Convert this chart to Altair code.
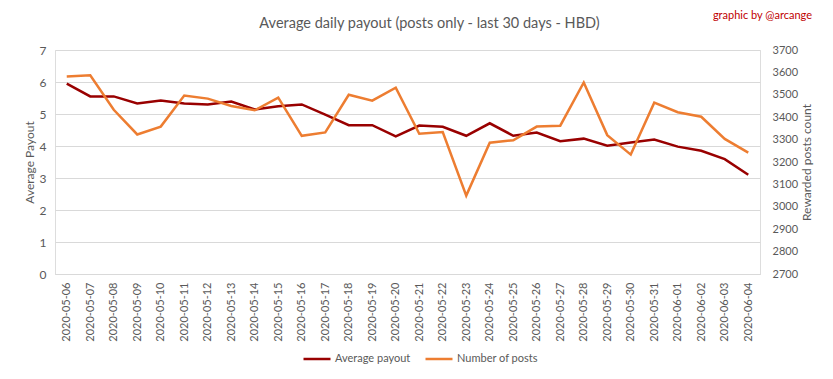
import altair as alt
import pandas as pd

dates = [
    "2020-05-06", "2020-05-07", "2020-05-08", "2020-05-09", "2020-05-10",
    "2020-05-11", "2020-05-12", "2020-05-13", "2020-05-14", "2020-05-15",
    "2020-05-16", "2020-05-17", "2020-05-18", "2020-05-19", "2020-05-20",
    "2020-05-21", "2020-05-22", "2020-05-23", "2020-05-24", "2020-05-25",
    "2020-05-26", "2020-05-27", "2020-05-28", "2020-05-29", "2020-05-30",
    "2020-05-31", "2020-06-01", "2020-06-02", "2020-06-03", "2020-06-04",
]
payout = [5.95, 5.55, 5.55, 5.33, 5.42, 5.33, 5.30, 5.39, 5.14, 5.24,
          5.30, 4.98, 4.65, 4.65, 4.30, 4.64, 4.60, 4.32, 4.71, 4.32,
          4.42, 4.15, 4.23, 4.01, 4.11, 4.20, 3.98, 3.85, 3.59, 3.10]
posts = [3582, 3587, 3433, 3323, 3358, 3497, 3483, 3450, 3431, 3487,
         3317, 3332, 3500, 3474, 3532, 3326, 3334, 3050, 3286, 3297,
         3358, 3362, 3555, 3320, 3233, 3465, 3422, 3402, 3303, 3242]
series_names = ["Average payout", "Number of posts"]
series_colors = ["#990000", "#ED7D31"]
title_text = "Average daily payout (posts only - last 30 days - HBD)"
credit_text = "graphic by @arcange"

df_pay = pd.DataFrame({"date": dates, "value": payout, "series": series_names[0]})
df_posts = pd.DataFrame({"date": dates, "value": posts, "series": series_names[1]})

GREY = "#595959"
FONT = "Lato"

x_enc = alt.X(
    "date:N", sort=dates, title=None,
    axis=alt.Axis(labelAngle=270, labelColor=GREY, labelFontSize=11, labelFont=FONT,
                  domain=True, domainColor="#D9D9D9", ticks=False, grid=False,
                  labelPadding=8),
)
color_enc = alt.Color(
    "series:N",
    scale=alt.Scale(domain=series_names, range=series_colors),
    legend=alt.Legend(title=None, orient="none", legendX=247, legendY=294,
                      direction="horizontal", symbolType="stroke", symbolSize=729,
                      symbolStrokeWidth=2.5, labelFontSize=11, labelColor=GREY,
                      labelFont=FONT, columnPadding=9, labelOffset=3, padding=0),
)

pay_layer = alt.Chart(df_pay).mark_line(strokeWidth=2.5).encode(
    x=x_enc,
    y=alt.Y("value:Q", scale=alt.Scale(domain=[0, 7]),
            axis=alt.Axis(orient="left", values=list(range(0, 8)), grid=True,
                          gridColor="#D9D9D9", domain=False, ticks=False,
                          labelColor=GREY, labelFontSize=12, labelFont=FONT,
                          labelPadding=9, title="Average Payout", titleColor=GREY,
                          titleFontSize=12, titleFont=FONT, titleFontWeight="normal",
                          titlePadding=3)),
    color=color_enc,
)
posts_layer = alt.Chart(df_posts).mark_line(strokeWidth=2.5).encode(
    x=x_enc,
    y=alt.Y("value:Q", scale=alt.Scale(domain=[2700, 3700]),
            axis=alt.Axis(orient="right", values=list(range(2700, 3701, 100)), format="d",
                          grid=False, domain=False, ticks=False, labelColor=GREY,
                          labelFontSize=11, labelFont=FONT, labelPadding=12,
                          title="Rewarded posts count", titleColor=GREY, titleFontSize=12,
                          titleFont=FONT, titleFontWeight="normal", titleAngle=270,
                          titleBaseline="top", titlePadding=4)),
    color=color_enc,
)
credit = alt.Chart(pd.DataFrame({"t": [credit_text]})).mark_text(
    align="right", baseline="middle", fontSize=11, font=FONT, color="#C00000"
).encode(text="t:N", x=alt.value(757), y=alt.value(-34.5))

title = alt.Chart(pd.DataFrame({"t": [title_text]})).mark_text(
    align="center", baseline="middle", fontSize=14.5, font=FONT, color=GREY
).encode(text="t:N", x=alt.value(374.5), y=alt.value(-26))

chart = alt.layer(pay_layer, posts_layer, credit, title).resolve_scale(
    y="independent"
).properties(
    width=705, height=224,
    autosize=alt.AutoSizeParams(type="none"),
    padding={"left": 47, "top": 42, "right": 65, "bottom": 97},
).configure_view(strokeWidth=0).configure(background="white")

chart.save("out.html", embed_options={"renderer": "svg", "actions": False})
